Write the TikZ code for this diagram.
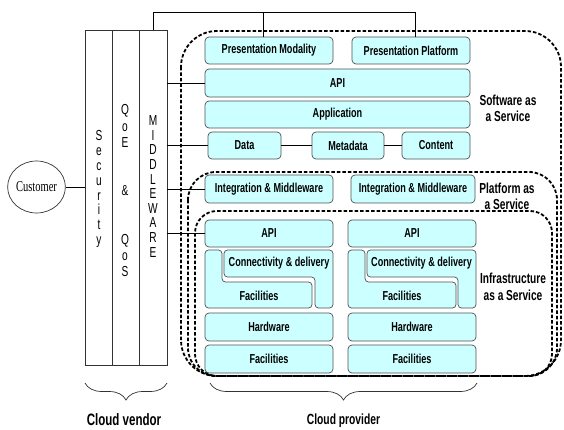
\documentclass[tikz,border=0pt]{standalone}
\usepackage{fontspec}
\setmainfont{Liberation Sans}[FakeStretch=0.70]
\newfontfamily\serifn{Liberation Serif}[FakeStretch=0.7]
\usetikzlibrary{shapes.geometric,decorations.pathreplacing}
\definecolor{boxfill}{HTML}{CCFFFF}
\definecolor{boxline}{HTML}{505050}
\begin{document}
\begin{tikzpicture}[x=1pt,y=-1pt,
  sz/.style 2 args={minimum width=#1pt, minimum height=#2pt},
  box/.style={draw=boxline, fill=boxfill, rounded corners=4pt, line width=0.7pt, inner sep=0pt, font=\bfseries\fontsize{13}{14}\selectfont},
  lshape/.style={draw=boxline, fill=boxfill, rounded corners=3.5pt, line width=0.7pt},
  lbl/.style={inner sep=0pt, font=\bfseries\fontsize{13}{14}\selectfont},
  col/.style={draw=black!80, fill=white, line width=0.7pt, inner sep=0pt, minimum height=335pt},
  region/.style={draw=black, line width=1.8pt, dash pattern=on 3.5pt off 2pt},
  conn/.style={draw=black, line width=0.7pt},
  letters/.style={align=center, inner sep=0pt},
  svc/.style={align=center, inner sep=0pt, font=\bfseries\fontsize{14.5}{16.5}\selectfont},
  brc/.style={draw=black!80, line width=0.7pt, decorate, decoration={brace, mirror, amplitude=17pt}},
]
\useasboundingbox (0,0) rectangle (564,430);

% service regions
\draw[region, rounded corners=36pt] (181,31) rectangle (561,376);
\draw[region, rounded corners=28pt] (188,172) rectangle (557,376);
\draw[region, rounded corners=22pt] (195,211) rectangle (552,376);

% vendor columns
\node[col, minimum width=27pt] (sec) at (98.5,197.5) {};
\node[col, minimum width=27pt] (qoe) at (125.5,197.5) {};
\node[col, minimum width=28pt] (mw) at (153,197.5) {};
\node[letters, font=\fontsize{14.5}{14.9}\selectfont] (secl) at (99,189) {S\\e\\c\\u\\r\\i\\t\\y};
\node[letters, font=\fontsize{14.5}{16.2}\selectfont] (qoel) at (125,191) {Q\\o\\E\\[32.4pt]\&\\[32.4pt]Q\\o\\S};
\node[letters, font=\fontsize{14.5}{14.6}\selectfont] (mwl) at (153,186.5) {M\\I\\D\\D\\L\\E\\W\\A\\R\\E};

% customer
\node[draw=black!80, ellipse, line width=0.7pt, minimum width=57pt, minimum height=52pt, inner sep=0pt,
      font=\serifn\fontsize{15}{16}\selectfont] (cust) at (36.5,187) {Customer};
\draw[conn] (cust.east) -- (cust.east -| sec.west);

% SaaS boxes
\node[box, sz={128}{27}] (pm) at (269,50.5) {Presentation Modality};
\node[box, sz={118}{27}] (pp) at (411,50.5) {Presentation Platform};
\node[box, sz={265}{28}] (api1) at (337.5,83) {API};
\node[box, sz={265}{27}] (app) at (337.5,114.5) {Application};
\node[box, sz={73}{27}] (data) at (244.5,145.5) {Data};
\node[box, sz={72}{27}] (meta) at (348,145.5) {Metadata};
\node[box, sz={68}{27}] (cont) at (436,145.5) {Content};

% PaaS boxes
\node[box, sz={128}{28}] (im1) at (269,189) {Integration \& Middleware};
\node[box, sz={124}{28}] (im2) at (413,189) {Integration \& Middleware};

% IaaS boxes
\node[box, sz={128}{27}] (api2) at (269,233.5) {API};
\node[box, sz={128}{27}] (api3) at (412,233.5) {API};
\draw[lshape] (205,250) -- (222,250) -- (222,282) -- (312,282) -- (312,308) -- (205,308) -- cycle;
\draw[lshape] (224,250) -- (333,250) -- (333,308) -- (315,308) -- (315,277) -- (224,277) -- cycle;
\draw[lshape] (348,250) -- (365,250) -- (365,282) -- (456,282) -- (456,308) -- (348,308) -- cycle;
\draw[lshape] (367,250) -- (476,250) -- (476,308) -- (458,308) -- (458,277) -- (367,277) -- cycle;
\node[lbl] (cd1) at (279,263.5) {Connectivity \& delivery};
\node[lbl] (cd2) at (421.5,263.5) {Connectivity \& delivery};
\node[lbl] (fl1) at (259,296) {Facilities};
\node[lbl] (fl2) at (402,296) {Facilities};
\node[box, sz={128}{28}] (hw1) at (269,327) {Hardware};
\node[box, sz={128}{28}] (hw2) at (412,327) {Hardware};
\node[box, sz={128}{28}] (fac1) at (269,359) {Facilities};
\node[box, sz={128}{28}] (fac2) at (412,359) {Facilities};

% service labels
\node[svc] (saas) at (508,108.5) {Software as\\a Service};
\node[svc] (paas) at (507,196.5) {Platform as\\a Service};
\node[svc] (iaas) at (513,287) {Infrastructure\\as a Service};

% connectors
\draw[conn] (data) -- (meta);
\draw[conn] (meta) -- (cont);
\draw[conn] (mw.east |- api1.west) -- (api1.west);
\draw[conn] (mw.east |- data.west) -- (data.west);
\draw[conn] (mw.east |- im1.west) -- (im1.west);
\draw[conn] (mw.east |- api2.west) -- (api2.west);
\coordinate (top) at (153,12);
\coordinate (pmt) at ([xshift=-6pt]pm.north);
\coordinate (ppt) at ([xshift=4pt]pp.north);
\draw[conn] (mw.north) -- (top) -| (ppt);
\draw[conn] (pmt) -- (pmt |- top);

% braces
\coordinate (vl) at (85,383);
\coordinate (vr) at (167,383);
\draw[brc] (vl) -- (vr);
\node[inner sep=0pt, font=\bfseries\fontsize{16.5}{18}\selectfont] (cv) at (124,420) {Cloud vendor};
\coordinate (pl) at (210,383);
\coordinate (pr) at (477,383);
\draw[brc] (pl) -- (pr);
\node[inner sep=0pt, font=\bfseries\fontsize{14.7}{16}\selectfont] (cp) at (343.5,421) {Cloud provider};
\end{tikzpicture}
\end{document}
